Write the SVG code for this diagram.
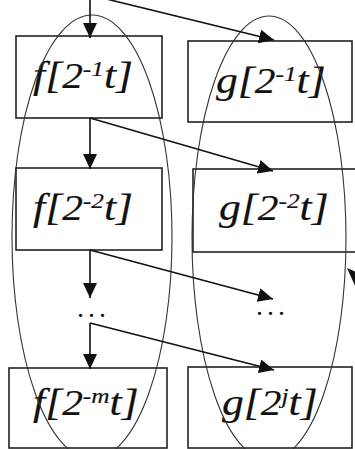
<svg xmlns="http://www.w3.org/2000/svg" width="355" height="449" viewBox="0 0 355 449">
<style>
.box{fill:none;stroke:#222;stroke-width:1.6}
.ell{fill:none;stroke:#333;stroke-width:1.1}
.lab{font-family:'Liberation Serif','Times New Roman',serif;font-style:italic;fill:#111;stroke:#111;stroke-width:0.2;font-size:38px}
.num{font-size:36px}
.sup{font-size:22px}
.dots{font-family:'Liberation Serif',serif;font-size:28px;fill:#111;letter-spacing:4px}
.arr{fill:none;stroke:#111;stroke-width:1.6;marker-end:url(#ah)}
</style>
<defs>
<marker id="ah" markerUnits="userSpaceOnUse" markerWidth="16" markerHeight="14" refX="15" refY="7" orient="auto">
<path d="M0,0 L15,7 L0,14 z" fill="#111"/>
</marker>
</defs>
<rect width="355" height="449" fill="#fff"/>
<g id="f1">
<rect class="box" x="16" y="36" width="146" height="82"/>
<text class="lab" transform="translate(33,88) scale(1.15,1)">f[<tspan class="num">2</tspan><tspan class="sup" dy="-12">-1</tspan><tspan dy="12">t]</tspan></text>
</g>
<g id="g1">
<rect class="box" x="188" y="41" width="164" height="81"/>
<text class="lab" transform="translate(216,93) scale(1.15,1)">g[<tspan class="num">2</tspan><tspan class="sup" dy="-12">-1</tspan><tspan dy="12">t]</tspan></text>
</g>
<g id="f2">
<rect class="box" x="16" y="168" width="146" height="82"/>
<text class="lab" transform="translate(33,220) scale(1.15,1)">f[<tspan class="num">2</tspan><tspan class="sup" dy="-12">-2</tspan><tspan dy="12">t]</tspan></text>
</g>
<g id="g2">
<rect class="box" x="193" y="169" width="170" height="83"/>
<text class="lab" transform="translate(219,220) scale(1.15,1)">g[<tspan class="num">2</tspan><tspan class="sup" dy="-12">-2</tspan><tspan dy="12">t]</tspan></text>
</g>
<g id="f3">
<rect class="box" x="9" y="368" width="158" height="80"/>
<text class="lab" transform="translate(33,415) scale(1.15,1)">f[<tspan class="num">2</tspan><tspan class="sup" dy="-12">-m</tspan><tspan dy="12">t]</tspan></text>
</g>
<g id="g3">
<rect class="box" x="188" y="367" width="164" height="81"/>
<text class="lab" transform="translate(222,415) scale(1.15,1)">g[<tspan class="num">2</tspan><tspan class="sup" dy="-12">j</tspan><tspan dy="12">t]</tspan></text>
</g>
<g id="dotsL"><text class="dots" x="77" y="317">...</text></g>
<g id="dotsR"><text class="dots" x="256" y="315">...</text></g>
<g id="groupF"><ellipse class="ell" cx="92" cy="237" rx="80" ry="222"/></g>
<g id="groupG"><ellipse class="ell" cx="269" cy="238" rx="77" ry="222"/></g>
<g id="connectors">
<line class="arr" x1="90" y1="-5" x2="90" y2="38"/>
<line class="arr" x1="90" y1="-5" x2="274" y2="40"/>
<line class="arr" x1="90" y1="118" x2="90" y2="169"/>
<line class="arr" x1="90" y1="118" x2="273" y2="171"/>
<line class="arr" x1="90" y1="250" x2="90" y2="298"/>
<line class="arr" x1="90" y1="250" x2="273" y2="299"/>
<line class="arr" x1="90" y1="323" x2="90" y2="369"/>
<line class="arr" x1="90" y1="323" x2="274" y2="370"/>
<polygon points="347,268 356,272 356,288" fill="#111"/>
</g>
</svg>
